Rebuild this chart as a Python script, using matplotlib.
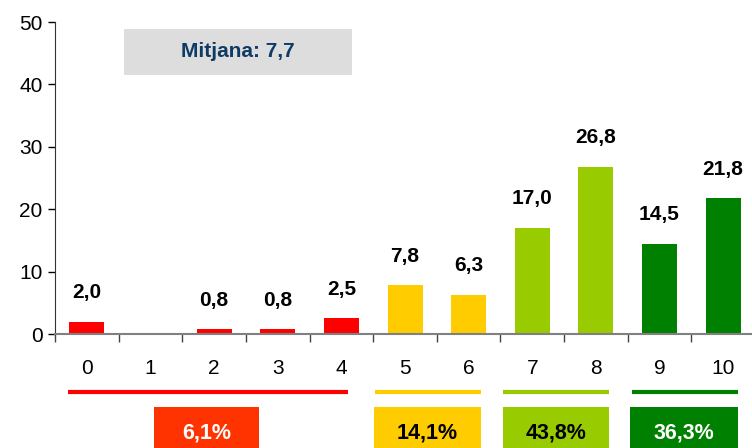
import matplotlib
matplotlib.use("Agg")
import matplotlib.pyplot as plt
from matplotlib.patches import Rectangle
import matplotlib.transforms as mtransforms

plt.rcParams['font.family'] = ['Liberation Sans', 'DejaVu Sans']

categories = ['0', '1', '2', '3', '4', '5', '6', '7', '8', '9', '10']
values = [2.0, 0.0, 0.8, 0.8, 2.5, 7.8, 6.3, 17.0, 26.8, 14.5, 21.8]
labels = ['2,0', '', '0,8', '0,8', '2,5', '7,8', '6,3', '17,0', '26,8', '14,5', '21,8']
bar_colors = ['#FF0000'] * 5 + ['#FFCC00'] * 2 + ['#99CC00'] * 2 + ['#008000'] * 2

group_labels = ['6,1%', '14,1%', '43,8%', '36,3%']
group_line_colors = ['#FF0000', '#FFCC00', '#99CC00', '#008000']
group_box_colors = ['#FF3300', '#FFCC00', '#99CC00', '#008000']
group_text_colors = ['white', 'black', 'black', 'white']
mean_text = 'Mitjana: 7,7'

W, H = 752, 448
fig = plt.figure(figsize=(W / 100, H / 100), dpi=100)
left, right, top, bottom = 55, 755, 22, 334
ax = fig.add_axes([left / W, (H - bottom) / H, (right - left) / W, (bottom - top) / H])

x = list(range(len(categories)))
ax.bar(x, values, width=0.55, color=bar_colors, zorder=2)
ax.set_xlim(-0.5, 10.5)
ax.set_ylim(0, 50)
ax.set_yticks([0, 10, 20, 30, 40, 50])
ax.tick_params(axis='y', labelsize=15, length=5, width=1, direction='out', pad=4)
ax.set_xticks(x)
ax.set_xticklabels(categories)
ax.tick_params(axis='x', which='major', length=0, labelsize=15, pad=18)
ax.set_xticks([i - 0.5 for i in range(len(categories) + 1)], minor=True)
ax.tick_params(axis='x', which='minor', length=6, width=1, direction='out', color='#444444')

for s in ['top', 'right']:
    ax.spines[s].set_visible(False)
ax.spines['left'].set_color('#333333')
ax.spines['bottom'].set_color('#808080')
ax.spines['bottom'].set_linewidth(1.5)

for xi, v, lab in zip(x, values, labels):
    if lab:
        ax.annotate(lab, (xi, v), xytext=(0, 14), textcoords='offset points',
                    ha='center', va='bottom', fontsize=15, fontweight='bold')

# mean box
ax.add_patch(Rectangle((0.585, 41.5), 4.17 - 0.585, 48.9 - 41.5,
                       facecolor='#DDDDDD', edgecolor='none', zorder=1))
ax.text((0.585 + 4.17) / 2, 45.2, mean_text, ha='center', va='center',
        fontsize=15, fontweight='bold', color='#0F3A66')

# group lines and boxes below axis (x in data, y in figure pixels)
trans = mtransforms.blended_transform_factory(ax.transData, fig.transFigure)
line_spans = [(-0.296, 4.107), (4.53, 6.20), (6.54, 8.21), (8.57, 10.24)]
box_spans = [(1.06, 2.71), (4.51, 6.20), (6.54, 8.21), (8.54, 10.24)]
y_line = (H - 392) / H
box_top = (H - 407) / H
box_bot = (H - 449) / H
for (x0, x1), c in zip(line_spans, group_line_colors):
    fig.lines.append(plt.Line2D([x0, x1], [y_line, y_line], transform=trans,
                                color=c, linewidth=3, solid_capstyle='butt'))
for (x0, x1), c, lab, tc in zip(box_spans, group_box_colors, group_labels, group_text_colors):
    fig.patches.append(Rectangle((x0, box_bot), x1 - x0, box_top - box_bot,
                                 transform=trans, facecolor=c, edgecolor='none'))
    fig.text((x0 + x1) / 2, (H - 433) / H, lab, transform=trans, ha='center', va='center',
             fontsize=15.5, fontweight='bold', color=tc)

fig.savefig('out.png', dpi=100)
